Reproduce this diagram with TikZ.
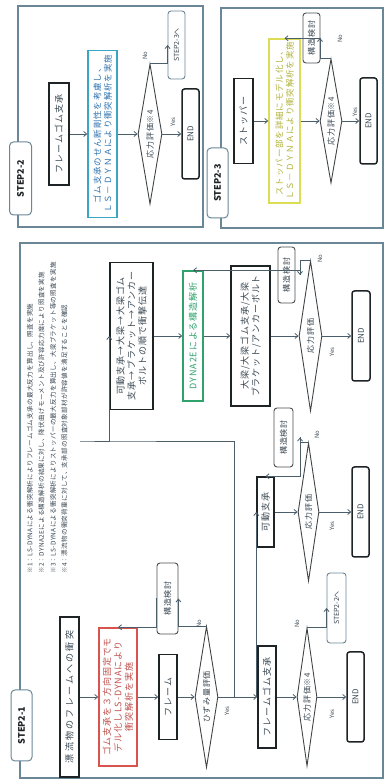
\documentclass[tikz,border=0pt]{standalone}
\usepackage{fontspec}
\setmainfont{Noto Sans CJK JP}
\newfontfamily\jpw[LetterSpace=25]{Noto Sans CJK JP}
\newfontfamily\jps[LetterSpace=10]{Noto Sans CJK JP}
\newfontfamily\jpn[LetterSpace=5]{Noto Sans CJK JP}
\usetikzlibrary{shapes.geometric,arrows.meta}
\definecolor{frm}{HTML}{6A8797}
\definecolor{txt}{HTML}{3A4853}
\definecolor{lnk}{HTML}{4A5E6B}
\definecolor{bx}{HTML}{1E2326}
\definecolor{redc}{HTML}{D9534F}
\definecolor{redt}{HTML}{C0504D}
\definecolor{grn}{HTML}{2FA36B}
\definecolor{cyb}{HTML}{3AA6C6}
\definecolor{cyt}{HTML}{2F74B0}
\definecolor{yel}{HTML}{DCDC55}
\definecolor{yelt}{HTML}{B2B23A}
\tikzset{
  panel/.style={draw=frm, line width=1.1pt},
  steplab/.style={draw=frm, fill=white, line width=1pt, rounded corners=4pt,
    font=\bfseries\fontsize{9}{10}\selectfont, text=bx, inner sep=0pt},
  hbox/.style={draw=bx, line width=1.5pt, fill=white, align=center, inner sep=0pt,
    font=\jps\fontsize{9}{11}\selectfont, text=txt},
  ebox/.style={hbox, rounded corners=2.5pt, font=\fontsize{8}{9}\selectfont},
  sbox/.style={draw=bx!80, line width=0.9pt, rounded corners=3pt, fill=white,
    align=center, inner sep=0pt, font=\jps\fontsize{8}{9}\selectfont, text=txt},
  gbox/.style={draw=frm, line width=0.9pt, rounded corners=3pt, fill=white,
    align=center, inner sep=0pt, font=\fontsize{7}{8}\selectfont, text=txt},
  dia/.style={diamond, aspect=6, draw=bx!85, line width=0.9pt, inner sep=0pt,
    font=\jps\fontsize{8}{9}\selectfont, text=txt},
  arr/.style={draw=lnk, line width=0.8pt, -{Straight Barb[length=3pt,width=5pt]}},
  yn/.style={font=\fontsize{6}{7}\selectfont, text=txt, inner sep=0pt},
  note/.style={anchor=west, font=\jpn\fontsize{6.5}{7}\selectfont, text=txt, inner sep=0pt},
}
\begin{document}
\begin{tikzpicture}[x=1pt,y=-1pt]
\begin{scope}[rotate=90, transform shape]
\path[use as bounding box] (0,0) rectangle (784,386);
% panels
\draw[panel] (6,20) rectangle (541,383);
\draw[panel] (557,18) rectangle (778,203);
\draw[panel] (556,221) rectangle (776,383);
\node[steplab, minimum width=71pt, minimum height=21pt] (L1) at (58.5,21.5) {STEP2-1};
\node[steplab, minimum width=73pt, minimum height=22pt] (L2) at (605.5,20.5) {STEP2-2};
\node[steplab, minimum width=70pt, minimum height=21pt] (L3) at (601,217.5) {STEP2-3};

% notes
\node[note] (N1) at (210,30) {※1：LS-DYNAによる衝突解析によりフレームゴム支承の最大反力を算出し、照査を実施};
\node[note] (N2) at (210,41.5) {※2：DYNA2Eによる構造解析の結果に対し、降伏曲げモーメント及び許容応力度により照査を実施};
\node[note] (N3) at (210,53) {※3：LS-DYNAによる衝突解析によりストッパーの最大反力を算出し、大梁ブラケット等の照査を実施};
\node[note] (N4) at (210,64.5) {※4：漂流物の衝突荷重に対して、支承部の照査対象部材が許容値を満足することを確認};

% column 1
\node[hbox, font=\jpw\fontsize{9}{11}\selectfont, minimum width=160pt, minimum height=19pt] (A) at (87,69.5) {漂流物のフレームへの衝突};
\node[hbox, draw=redc, text=redt, minimum width=138pt, minimum height=38pt] (R) at (87,118) {ゴム支承を３方向固定でモ\\デル化しLS-DYNAにより\\衝突解析を実施};
\node[sbox, minimum width=71pt, minimum height=21pt] (K1) at (185.5,167.5) {構造検討};
\node[hbox, minimum width=85pt, minimum height=18pt] (F) at (87,168) {フレーム};
\node[dia, minimum width=141pt, minimum height=23pt] (D1) at (87,206.5) {ひずみ量評価};
\node[hbox, minimum width=102pt, minimum height=18pt] (FG) at (87,267) {フレームゴム支承};
\node[dia, minimum width=138pt, minimum height=20pt] (D2) at (87,307) {応力評価※4};
\node[gbox, minimum width=70pt, minimum height=19pt] (S22) at (176,336.5) {STEP2-2へ};
\node[ebox, minimum width=90pt, minimum height=17pt] (E1) at (87,355.5) {END};

% column 2
\node[hbox, minimum width=70pt, minimum height=17pt] (KD) at (272,265.5) {可動支承};
\node[sbox, minimum width=59pt, minimum height=19pt] (K2) at (346.5,283.5) {構造検討};
\node[dia, minimum width=138pt, minimum height=21pt] (D3) at (272,308.5) {応力評価};
\node[ebox, minimum width=90pt, minimum height=17pt] (E2) at (272,360.5) {END};

% column 3
\node[hbox, minimum width=147pt, minimum height=43pt] (B) at (448,131.5) {可動支承→大梁→大梁ゴム\\支承→ ブラケット→アンカー\\ボルトの順で衝撃伝達};
\node[hbox, draw=grn, text=grn, minimum width=130pt, minimum height=20pt] (G) at (448,193) {DYNA2Eによる構造解析};
\node[hbox, minimum width=140pt, minimum height=39pt] (O) at (448,250.5) {大梁/大梁ゴム支承/大梁\\ブラケット/アンカーボルト};
\node[sbox, minimum width=56pt, minimum height=17pt] (K3) at (509,286.5) {構造検討};
\node[dia, minimum width=150pt, minimum height=23pt] (D4) at (448,310.5) {応力評価};
\node[ebox, minimum width=90pt, minimum height=18pt] (E3) at (448,361) {END};

% STEP2-2
\node[hbox, minimum width=102pt, minimum height=20pt] (FG2) at (650,59) {フレームゴム支承};
\node[hbox, draw=cyb, text=cyt, font=\jps\fontsize{8.5}{10.5}\selectfont, minimum width=167pt, minimum height=29pt] (C) at (650,102.5) {ゴム支承のせん断剛性を考慮し、\\ＬＳ－ＤＹＮＡにより衝突解析を実施};
\node[dia, minimum width=140pt, minimum height=24pt] (D5) at (650,150) {応力評価※4};
\node[gbox, minimum width=68pt, minimum height=17pt] (S23) at (739,176.5) {STEP2-3へ};
\node[ebox, minimum width=90pt, minimum height=17pt] (E4) at (650,190.5) {END};

% STEP2-3
\node[hbox, minimum width=85pt, minimum height=19pt] (ST) at (663,243.5) {ストッパー};
\node[hbox, draw=yel, text=yelt, font=\jps\fontsize{8.5}{10.5}\selectfont, minimum width=164pt, minimum height=31pt] (Y) at (663,284.5) {ストッパー部を詳細にモデル化し、\\ＬＳ－ＤＹＮＡにより衝突解析を実施};
\node[sbox, minimum width=50pt, minimum height=17pt] (K4) at (746,311.5) {構造検討};
\node[dia, minimum width=124pt, minimum height=22pt] (D6) at (663,331) {応力評価※4};
\node[ebox, minimum width=86pt, minimum height=17pt] (E5) at (663,368.5) {END};

% helper coordinates
\coordinate (J1) at (87,234);
\coordinate (J2) at (343,234);
\coordinate (J3) at (343,80);
\coordinate (x2) at (356,300);
\coordinate (x3) at (532,300);
\coordinate (x6) at (760,320);

% connectors column 1
\draw[arr] (A.south) -- (R.north);
\draw[arr] (R.south) -- (F.north);
\draw[arr] (F.south) -- (D1.north);
\draw[arr] (D1.south) -- (FG.north);
\draw[arr] (FG.south) -- (D2.north);
\draw[arr] (D2.south) -- (E1.north);
\draw[arr] (D1.east) |- (K1.south);
\draw[arr] (K1.north) -| (R.east);
\draw[arr] (D2.east) |- (S22.north);
% split
\draw[arr] (J1) -- (J2) -- (J3) |- (B.north);
\draw[arr] (KD.north -| J1) -- (KD.north);
% column 2
\draw[arr] (KD.south) -- (D3.north);
\draw[arr] (D3.south) -- (E2.north);
\draw[arr] (D3.east) |- (x2 -| K2.south);
\draw[arr] (x2 -| K2.north) -| (KD.east);
% column 3
\draw[arr] (B.south) -- (G.north);
\draw[arr] (G.south) -- (O.north);
\draw[arr] (O.south) -- (D4.north);
\draw[arr] (D4.south) -- (E3.north);
\draw[arr] (D4.east) |- (x3 -| K3.south);
\draw[arr] (x3 -| K3.north) -| (G.east);
% STEP2-2
\draw[arr] (FG2.south) -- (C.north);
\draw[arr] (C.south) -- (D5.north);
\draw[arr] (D5.south) -- (E4.north);
\draw[arr] (D5.east) |- (S23.north);
% STEP2-3
\draw[arr] (ST.south) -- (Y.north);
\draw[arr] (Y.south) -- (D6.north);
\draw[arr] (D6.south) -- (E5.north);
\draw[arr] (D6.east) |- (x6 -| K4.south);
\draw[arr] (x6 -| K4.north) -| (Y.east);

% yes / no labels
\node[yn] (n1) at (160,199) {No};
\node[yn] (y1) at (73,227) {Yes};
\node[yn] (n2) at (160,297) {No};
\node[yn] (y2) at (70,332) {Yes};
\node[yn] (n3) at (349,317) {No};
\node[yn] (y3) at (258,332) {Yes};
\node[yn] (n4) at (525,320) {No};
\node[yn] (y4) at (432,332) {Yes};
\node[yn] (n5) at (728,145) {No};
\node[yn] (y5) at (662,173) {Yes};
\node[yn] (n6) at (745,340) {No};
\node[yn] (y6) at (672,355) {Yes};
\end{scope}
\end{tikzpicture}
\end{document}
